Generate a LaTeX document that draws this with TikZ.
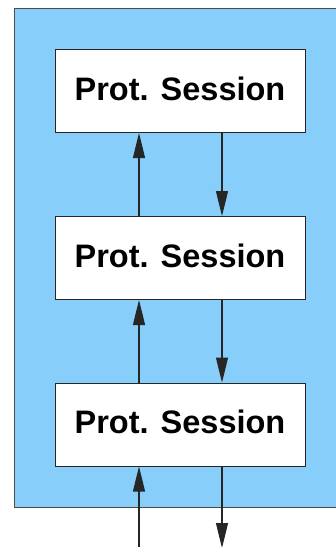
\documentclass[tikz,border=0pt]{standalone}
\usepackage{fontspec}
\setmainfont{Liberation Sans}
\usetikzlibrary{arrows.meta}
\definecolor{skyfill}{HTML}{87CEFA}
\tikzset{
  sessbox/.style={draw=black!85, line width=1pt, fill=white, minimum width=250pt, minimum height=83pt, inner sep=0pt,
    font=\fontsize{32.5pt}{36pt}\selectfont\bfseries, text depth=0pt},
  flow/.style={draw=black!85, line width=1.2pt, -{Triangle[length=25pt,width=12pt]}}
}
\begin{document}
\begin{tikzpicture}[x=1pt,y=-1pt]
\useasboundingbox (0,0) rectangle (336,547);
\node[draw=black!70, line width=1pt, fill=skyfill, minimum width=330pt, minimum height=499pt, inner sep=0pt, anchor=north west] (bg) at (14,8) {};
\node[sessbox] (s1) at (180,91) {\raisebox{5pt}{Prot. Session}};
\node[sessbox] (s2) at (180,258) {\raisebox{5pt}{Prot. Session}};
\node[sessbox] (s3) at (180,424.5) {\raisebox{5pt}{Prot. Session}};
\coordinate (inb) at (139,548);
\coordinate (outb) at (222,548);
\draw[flow] (s2.north -| inb) -- (s1.south -| inb);
\draw[flow] (s1.south -| outb) -- (s2.north -| outb);
\draw[flow] (s3.north -| inb) -- (s2.south -| inb);
\draw[flow] (s2.south -| outb) -- (s3.north -| outb);
\draw[flow] (inb) -- (s3.south -| inb);
\draw[flow] (s3.south -| outb) -- (outb);
\end{tikzpicture}
\end{document}
